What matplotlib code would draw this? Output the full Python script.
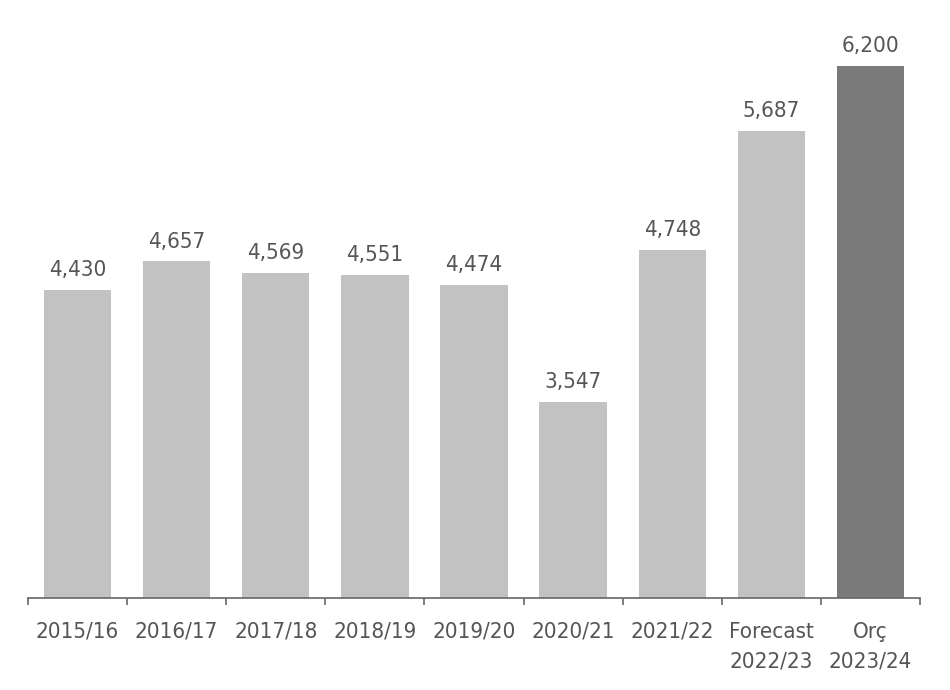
import matplotlib.pyplot as plt
from matplotlib.ticker import FixedLocator

categories = ['2015/16', '2016/17', '2017/18', '2018/19', '2019/20',
              '2020/21', '2021/22', 'Forecast\n2022/23', 'Orç\n2023/24']
values = [4430, 4657, 4569, 4551, 4474, 3547, 4748, 5687, 6200]
labels = ['4,430', '4,657', '4,569', '4,551', '4,474',
          '3,547', '4,748', '5,687', '6,200']

light = '#c2c2c2'
dark = '#7a7a7a'
text_col = '#555555'
font = dict(family='DejaVu Sans', fontstretch='condensed')

fig = plt.figure(figsize=(9.5, 6.9), dpi=100)
ax = fig.add_axes([28 / 950, 1 - 598 / 690, 892 / 950, 598 / 690])

x = list(range(len(values)))
colors = [light] * (len(values) - 1) + [dark]
ax.bar(x, values, width=0.68, color=colors, edgecolor='none')

for xi, v, lab in zip(x, values, labels):
    ax.annotate(lab, (xi, v), xytext=(0, 7), textcoords='offset points',
                ha='center', va='bottom', fontsize=16, color=text_col, **font)

ax.set_xlim(-0.5, len(values) - 0.5)
ax.set_ylim(2000, 6721)

ax.set_xticks(x)
ax.set_xticklabels(categories, fontsize=16, color=text_col, va='top',
                   linespacing=1.6, **font)
ax.tick_params(axis='x', which='major', length=0, pad=17)
ax.xaxis.set_minor_locator(FixedLocator([i - 0.5 for i in range(len(values) + 1)]))
ax.tick_params(axis='x', which='minor', length=5, width=1.2, color='#666666')

ax.set_yticks([])
for s in ['top', 'left', 'right']:
    ax.spines[s].set_visible(False)
ax.spines['bottom'].set_color('#666666')
ax.spines['bottom'].set_linewidth(1.2)

fig.savefig('out.png', dpi=100)
